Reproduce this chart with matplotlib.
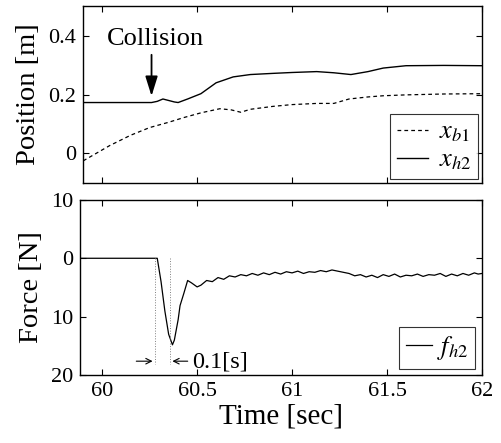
import matplotlib
matplotlib.use("Agg")
import matplotlib.pyplot as plt
import numpy as np

plt.rcParams['font.family'] = ['Liberation Serif', 'DejaVu Serif']
plt.rcParams['mathtext.fontset'] = 'stix'

# position data
t_h2 = [59.9, 60.26, 60.29, 60.32, 60.35, 60.38, 60.40, 60.45, 60.52, 60.60, 60.69, 60.78,
        60.9, 61.0, 61.13, 61.22, 61.31, 61.40, 61.48, 61.6, 61.8, 62.0]
x_h2 = [0.173, 0.173, 0.177, 0.185, 0.180, 0.175, 0.173, 0.185, 0.203, 0.240, 0.260, 0.268,
        0.272, 0.275, 0.278, 0.274, 0.268, 0.278, 0.290, 0.298, 0.299, 0.298]
t_b1 = [59.9, 60.04, 60.15, 60.25, 60.35, 60.43, 60.52, 60.62, 60.68, 60.73, 60.78,
        60.9, 61.0, 61.13, 61.22, 61.3, 61.4, 61.48, 61.6, 61.8, 62.0]
x_b1 = [-0.025, 0.027, 0.062, 0.088, 0.106, 0.122, 0.138, 0.152, 0.148, 0.140, 0.150,
        0.160, 0.166, 0.170, 0.170, 0.185, 0.192, 0.196, 0.199, 0.202, 0.203]

# force data
t_f = [59.88, 60.29, 60.31, 60.33, 60.35, 60.37, 60.38, 60.40, 60.41, 60.43, 60.45, 60.47,
       60.50, 60.52, 60.55, 60.58, 60.61, 60.64, 60.67, 60.70, 60.73, 60.76, 60.79,
       60.82, 60.85, 60.88, 60.91, 60.94, 60.97, 61.00, 61.03, 61.06, 61.09, 61.12,
       61.15, 61.18, 61.21, 61.24, 61.27, 61.30, 61.33, 61.36, 61.39, 61.42, 61.45,
       61.48, 61.51, 61.54, 61.57, 61.60, 61.63, 61.66, 61.69, 61.72, 61.75, 61.78,
       61.81, 61.84, 61.87, 61.90, 61.93, 61.96, 61.98, 62.0]
f_h2 = [0.0, 0.0, 4.0, 9.0, 13.0, 14.8, 14.0, 10.5, 8.1, 6.0, 3.8, 4.2,
        4.9, 4.6, 3.8, 4.0, 3.3, 3.6, 3.0, 3.2, 2.8, 3.0, 2.6,
        2.9, 2.5, 2.8, 2.4, 2.7, 2.3, 2.5, 2.2, 2.6, 2.3, 2.4,
        2.1, 2.3, 2.0, 2.2, 2.4, 2.6, 3.0, 2.8, 3.2, 2.9, 3.3,
        2.8, 3.1, 2.7, 3.2, 2.9, 3.0, 2.7, 3.1, 2.8, 2.9, 2.6,
        3.1, 2.7, 3.0, 2.6, 2.9, 2.5, 2.7, 2.6]

xticks = [60, 60.5, 61, 61.5, 62]
xlabels = ['60', '60.5', '61', '61.5', '62']

fig = plt.figure(figsize=(5.01, 4.43), dpi=100)
ax1 = fig.add_axes([0.166, 0.587, 0.796, 0.399])
ax2 = fig.add_axes([0.160, 0.153, 0.802, 0.396])

ax1.plot(t_b1, x_b1, 'k--', lw=0.9, dashes=(3, 2.5), label=r'$x_{b1}$')
ax1.plot(t_h2, x_h2, 'k-', lw=1.0, label=r'$x_{h2}$')
ax1.set_xlim(59.9, 62)
ax1.set_ylim(-0.1, 0.5)
ax1.set_yticks([0, 0.2, 0.4])
ax1.set_yticklabels(['0', '0.2', '0.4'])
ax1.set_xticks(xticks)
ax1.set_xticklabels([])
ax1.set_ylabel('Position [m]', fontsize=20.5, labelpad=5)
ax1.text(60.28, 0.39, 'Collision', ha='center', va='center', fontsize=19)
ax1.annotate('', xy=(60.26, 0.195), xytext=(60.26, 0.335),
             arrowprops=dict(arrowstyle='-|>,head_width=0.25,head_length=0.8',
                             color='k', lw=1.3, mutation_scale=15,
                             shrinkA=0, shrinkB=0))
ax1.legend(loc='lower right', fontsize=19, frameon=True, fancybox=False,
           edgecolor='k', handlelength=1.2, handletextpad=0.4, borderpad=0.25,
           labelspacing=0.15, borderaxespad=0.15).get_frame().set_linewidth(0.8)

ax2.plot(t_f, f_h2, 'k-', lw=0.9, label=r'$f_{h2}$')
ax2.set_xlim(59.884, 62)
ax2.set_ylim(20, -10)
ax2.set_yticks([-10, 0, 10, 20])
ax2.set_yticklabels(['10', '0', '10', '20'])
ax2.set_xticks(xticks)
ax2.set_xticklabels(xlabels)
ax2.set_ylabel('Force [N]', fontsize=20.5, labelpad=5)
ax2.set_xlabel('Time [sec]', fontsize=21, labelpad=2)
ax2.legend(loc='lower right', fontsize=19, frameon=True, fancybox=False,
           edgecolor='k', handlelength=1.0, handletextpad=0.2, borderpad=0.25,
           borderaxespad=0.25).get_frame().set_linewidth(0.8)

# 0.1 s annotation
for tv in [60.28, 60.355]:
    ax2.plot([tv, tv], [0, 18], color='0.5', lw=0.7, ls=':')
ax2.annotate('', xy=(60.28, 17.6), xytext=(60.165, 17.6),
             arrowprops=dict(arrowstyle='->', color='k', lw=0.8))
ax2.annotate('', xy=(60.355, 17.6), xytext=(60.465, 17.6),
             arrowprops=dict(arrowstyle='->', color='k', lw=0.8))
ax2.text(60.475, 17.7, '0.1[s]', fontsize=17.5, va='center', ha='left')

for ax in (ax1, ax2):
    ax.tick_params(direction='in', top=True, right=True, labelsize=16,
                   length=4, width=0.8, pad=5)
    for s in ax.spines.values():
        s.set_linewidth(1.0)

fig.savefig('out.png', dpi=100)
